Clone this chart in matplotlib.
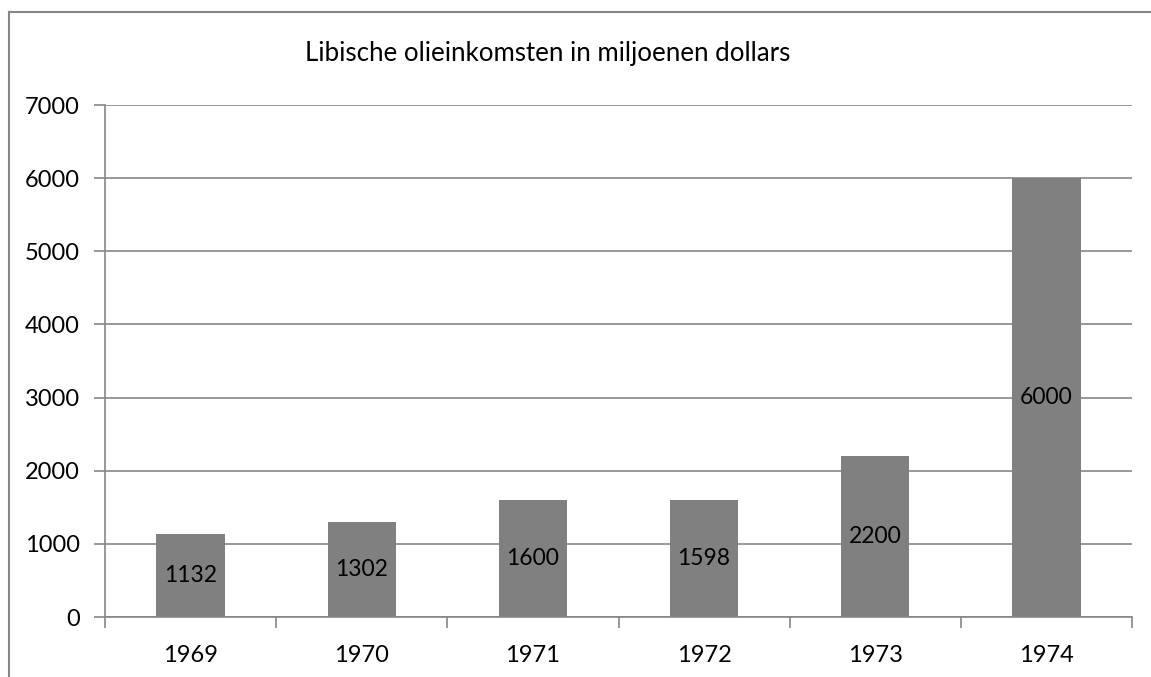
import matplotlib.pyplot as plt
from matplotlib.lines import Line2D

# data
years = ['1969', '1970', '1971', '1972', '1973', '1974']
income = [1132, 1302, 1600, 1598, 2200, 6000]
title = 'Libische olieinkomsten in miljoenen dollars'

W, H = 1151, 677
GRAY = '#868686'
BAR = '#808080'
plt.rcParams['font.family'] = ['Lato', 'DejaVu Sans']

fig = plt.figure(figsize=(W / 100, H / 100), dpi=100)

# plot area in pixels
left, right, top, bottom = 105, 1132, 105, 617
ax = fig.add_axes([left / W, (H - bottom) / H, (right - left) / W, (bottom - top) / H])

x = range(len(years))
bars = ax.bar(x, income, width=0.4, color=BAR, zorder=2)
ax.set_xlim(-0.5, len(years) - 0.5)
ax.set_ylim(0, 7000)
ax.set_yticks(range(0, 7001, 1000))
ax.set_xticks(x)
ax.set_xticklabels(years)

ax.grid(axis='y', color=GRAY, linewidth=1.2, zorder=1)
for side in ['top', 'right']:
    ax.spines[side].set_visible(False)
for side in ['left', 'bottom']:
    ax.spines[side].set_color(GRAY)
    ax.spines[side].set_linewidth(1.2)

# category boundary ticks on the x axis
ax.set_xticks([i - 0.5 for i in range(len(years) + 1)], minor=True)
ax.tick_params(axis='x', which='major', length=0, pad=20, labelsize=17)
ax.tick_params(axis='x', which='minor', length=8, width=1.2, color=GRAY, direction='out')
ax.tick_params(axis='y', length=8, width=1.2, color=GRAY, pad=10, labelsize=17)

# value labels centred in bars
for b, v in zip(bars, income):
    ax.text(b.get_x() + b.get_width() / 2, v / 2, str(v),
            ha='center', va='center', fontsize=16.5, color='black', zorder=3)

fig.text(548 / W, 1 - 53 / H, title, ha='center', va='center', fontsize=18.6)

# outer chart border (left and top visible)
fig.add_artist(Line2D([9 / W, 9 / W], [0, 1 - 12 / H], transform=fig.transFigure,
                      color=GRAY, linewidth=1.5))
fig.add_artist(Line2D([9 / W, 1], [1 - 12 / H, 1 - 12 / H], transform=fig.transFigure,
                      color=GRAY, linewidth=1.5))

fig.savefig('out.png', dpi=100)
